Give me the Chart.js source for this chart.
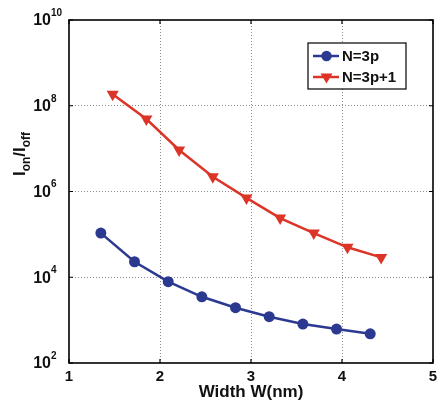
<!DOCTYPE html>
<html>
<head>
<meta charset="utf-8">
<script src="https://cdn.jsdelivr.net/npm/chart.js@4/dist/chart.umd.min.js"></script>
<style>
  html, body { margin: 0; padding: 0; background: #fff; }
  #wrap { width: 440px; height: 406px; }
</style>
</head>
<body>
<div id="wrap"><canvas id="c" width="440" height="406"></canvas></div>
<script>
// Ribbon width (nm) and on/off current ratio for the two ribbon families
const width3p   = [1.35, 1.72, 2.09, 2.46, 2.83, 3.20, 3.57, 3.94, 4.31];
const ratio3p   = [1.07e5, 2.3e4, 7.9e3, 3.5e3, 1.95e3, 1.2e3, 8.1e2, 6.2e2, 4.8e2];
const width3p1  = [1.48, 1.85, 2.21, 2.58, 2.95, 3.32, 3.69, 4.06, 4.43];
const ratio3p1  = [1.86e8, 4.9e7, 9.3e6, 2.2e6, 7.1e5, 2.4e5, 1.07e5, 5.0e4, 2.9e4];

const seriesNames = ['N=3p', 'N=3p+1'];
const xTicks = [1, 2, 3, 4, 5];
const yTickExponents = [2, 4, 6, 8, 10];

const BLUE = '#2b3990';
const RED = '#dc3427';
const FONT = '"Liberation Sans", Arial, Helvetica, sans-serif';

const toPoints = (xs, ys) => xs.map((x, i) => ({ x: x, y: ys[i] }));

// Axis box, inward ticks, tick labels with exponents, axis titles and legend
const decorations = {
  id: 'decorations',
  afterDraw(chart) {
    const ctx = chart.ctx;
    const a = chart.chartArea;
    const xs = chart.scales.x, ys = chart.scales.y;
    ctx.save();

    // box
    ctx.strokeStyle = '#000';
    ctx.lineWidth = 1.6;
    ctx.strokeRect(a.left, a.top, a.right - a.left, a.bottom - a.top);

    // inward ticks
    ctx.lineWidth = 1.2;
    const tl = 4;
    ctx.beginPath();
    xTicks.forEach(v => {
      const px = xs.getPixelForValue(v);
      ctx.moveTo(px, a.bottom); ctx.lineTo(px, a.bottom - tl);
      ctx.moveTo(px, a.top); ctx.lineTo(px, a.top + tl);
    });
    yTickExponents.forEach(e => {
      const py = ys.getPixelForValue(Math.pow(10, e));
      ctx.moveTo(a.left, py); ctx.lineTo(a.left + tl, py);
      ctx.moveTo(a.right, py); ctx.lineTo(a.right - tl, py);
    });
    ctx.stroke();

    // x tick labels
    ctx.fillStyle = '#111';
    ctx.font = 'bold 15px ' + FONT;
    ctx.textAlign = 'center';
    ctx.textBaseline = 'middle';
    xTicks.forEach(v => {
      ctx.fillText(String(v), xs.getPixelForValue(v), a.bottom + 14);
    });

    // y tick labels: 10 with superscript exponent
    yTickExponents.forEach(e => {
      const py = ys.getPixelForValue(Math.pow(10, e));
      ctx.font = 'bold 16px ' + FONT;
      ctx.textAlign = 'right';
      ctx.textBaseline = 'middle';
      ctx.fillText('10', 51, py + 1);
      ctx.font = 'bold 10px ' + FONT;
      ctx.textAlign = 'left';
      ctx.fillText(String(e), 51, py - 7);
    });

    // x title
    ctx.font = 'bold 17px ' + FONT;
    ctx.textAlign = 'center';
    ctx.textBaseline = 'middle';
    ctx.fillText('Width W(nm)', (a.left + a.right) / 2, 392);

    // y title: I_on/I_off, rotated
    const parts = [
      { t: 'I', sub: false }, { t: 'on', sub: true },
      { t: '/I', sub: false }, { t: 'off', sub: true }
    ];
    const mainFont = 'bold 17px ' + FONT;
    const subFont = 'bold 12px ' + FONT;
    let total = 0;
    parts.forEach(p => {
      ctx.font = p.sub ? subFont : mainFont;
      p.w = ctx.measureText(p.t).width;
      total += p.w;
    });
    ctx.translate(25, 154);
    ctx.rotate(-Math.PI / 2);
    ctx.textAlign = 'left';
    ctx.textBaseline = 'alphabetic';
    let cx = -total / 2;
    parts.forEach(p => {
      ctx.font = p.sub ? subFont : mainFont;
      ctx.fillText(p.t, cx, p.sub ? 5 : 0);
      cx += p.w;
    });
    ctx.setTransform(1, 0, 0, 1, 0, 0);

    // legend
    const lx = 308, ly = 43, lw = 98, lh = 46;
    ctx.fillStyle = '#fff';
    ctx.fillRect(lx, ly, lw, lh);
    ctx.strokeStyle = '#000';
    ctx.lineWidth = 1.2;
    ctx.strokeRect(lx, ly, lw, lh);
    const rows = [56, 77];
    chart.data.datasets.forEach((ds, i) => {
      const y = rows[i];
      ctx.strokeStyle = ds.borderColor;
      ctx.lineWidth = 2.5;
      ctx.beginPath();
      ctx.moveTo(313, y); ctx.lineTo(339, y);
      ctx.stroke();
      ctx.fillStyle = ds.borderColor;
      ctx.beginPath();
      if (i === 0) {
        ctx.arc(326.5, y, 5.2, 0, Math.PI * 2);
      } else {
        ctx.moveTo(320.5, y - 3.5); ctx.lineTo(332.5, y - 3.5); ctx.lineTo(326.5, y + 6.5);
        ctx.closePath();
      }
      ctx.fill();
      ctx.fillStyle = '#111';
      ctx.font = 'bold 15px ' + FONT;
      ctx.textAlign = 'left';
      ctx.textBaseline = 'middle';
      ctx.fillText(ds.label, 342, y + 1);
    });

    ctx.restore();
  }
};

new Chart(document.getElementById('c'), {
  type: 'line',
  data: {
    datasets: [
      {
        label: seriesNames[0],
        data: toPoints(width3p, ratio3p),
        borderColor: BLUE, backgroundColor: BLUE,
        borderWidth: 2.5, pointRadius: 5.5, pointStyle: 'circle',
        pointBorderWidth: 0, tension: 0
      },
      {
        label: seriesNames[1],
        data: toPoints(width3p1, ratio3p1),
        borderColor: RED, backgroundColor: RED,
        borderWidth: 2.5, pointRadius: 7, pointStyle: 'triangle', rotation: 180,
        pointBorderWidth: 0, tension: 0
      }
    ]
  },
  options: {
    responsive: false,
    animation: false,
    devicePixelRatio: 1,
    layout: { padding: { top: 20, right: 4, left: 0, bottom: 0 } },
    plugins: { legend: { display: false }, tooltip: { enabled: false } },
    scales: {
      x: {
        type: 'linear', min: 1, max: 5,
        afterBuildTicks: s => { s.ticks = xTicks.map(v => ({ value: v })); },
        afterFit: s => { s.height = 43; },
        ticks: { display: false },
        border: { display: false, dash: [1, 2] },
        grid: {
          drawTicks: false, lineWidth: 1,
          color: c => (c.tick && (c.tick.value === 1 || c.tick.value === 5)) ? 'rgba(0,0,0,0)' : '#8c8c8c'
        }
      },
      y: {
        type: 'logarithmic', min: 1e2, max: 1e10,
        afterBuildTicks: s => { s.ticks = yTickExponents.map(e => ({ value: Math.pow(10, e) })); },
        afterFit: s => { s.width = 69; },
        ticks: { display: false },
        border: { display: false, dash: [1, 2] },
        grid: {
          drawTicks: false, lineWidth: 1,
          color: c => (c.tick && (c.tick.value <= 1e2 || c.tick.value >= 1e10)) ? 'rgba(0,0,0,0)' : '#8c8c8c'
        }
      }
    }
  },
  plugins: [decorations]
});
</script>
</body>
</html>
